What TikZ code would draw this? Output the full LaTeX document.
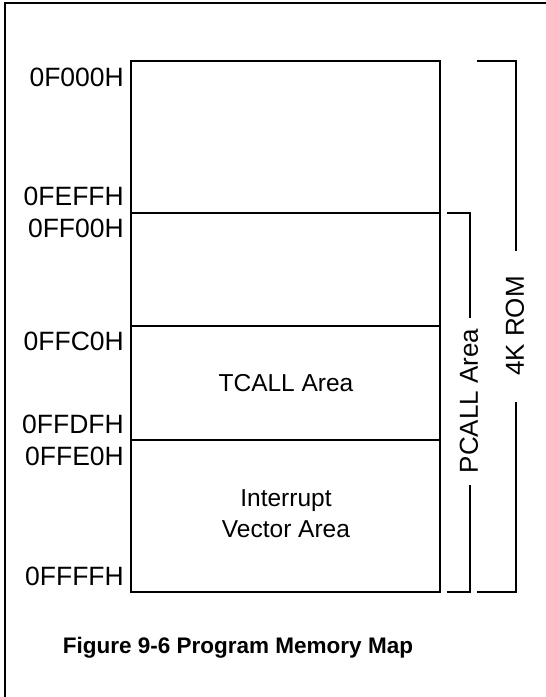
\documentclass[tikz,border=0pt]{standalone}
\usepackage{fontspec}
\setmainfont{Liberation Sans}
\begin{document}
\begin{tikzpicture}[x=1pt,y=-1pt,
  lbl/.style={anchor=east,inner sep=0pt,font=\fontsize{26.5}{30}\selectfont},
  area/.style={inner sep=0pt,align=center,font=\fontsize{24.5}{31}\selectfont},
  boxline/.style={line width=1.6pt},
  brk/.style={line width=1.6pt},
  rot/.style={rotate=90,inner sep=0pt,font=\fontsize{26}{30}\selectfont}]
\useasboundingbox (0,0) rectangle (546,697);
% frame
\draw[line width=2.5pt] (5,700) -- (5,3) -- (550,3);
% memory box
\coordinate (tl) at (131,61);
\coordinate (br) at (440,592);
\draw[boxline] (tl) rectangle (br);
\draw[boxline] (131,213) coordinate (l1) -- (440,213) coordinate (r1);
\draw[boxline] (131,326) coordinate (l2) -- (440,326) coordinate (r2);
\draw[boxline] (131,440) coordinate (l3) -- (440,440) coordinate (r3);
% address labels
\node[lbl] (a1) at (124,77) {0F000H};
\node[lbl] (a2) at (124,196) {0FEFFH};
\node[lbl] (a3) at (124,228) {0FF00H};
\node[lbl] (a4) at (124,341) {0FFC0H};
\node[lbl] (a5) at (124,424) {0FFDFH};
\node[lbl] (a6) at (124,456) {0FFE0H};
\node[lbl] (a7) at (124,576) {0FFFFH};
% area texts
\node[area] (tcall) at (286,383) {TCALL Area};
\node[area] (ivec) at (286,514) {Interrupt\\Vector Area};
% PCALL bracket
\node[rot] (pcall) at (469,401) {PCALL Area};
\draw[brk] (447,213) -- (470,213) -- (470,318);
\draw[brk] (470,485) -- (470,592) -- (447,592);
% 4K ROM bracket
\node[rot] (rom) at (515,326) {4K ROM};
\draw[brk] (477,61) -- (516,61) -- (516,251);
\draw[brk] (516,402) -- (516,592) -- (477,592);
% title
\node[inner sep=0pt,font=\fontsize{22.5}{28}\selectfont\bfseries] (title) at (238,648) {Figure 9-6 Program Memory Map};
\end{tikzpicture}
\end{document}
